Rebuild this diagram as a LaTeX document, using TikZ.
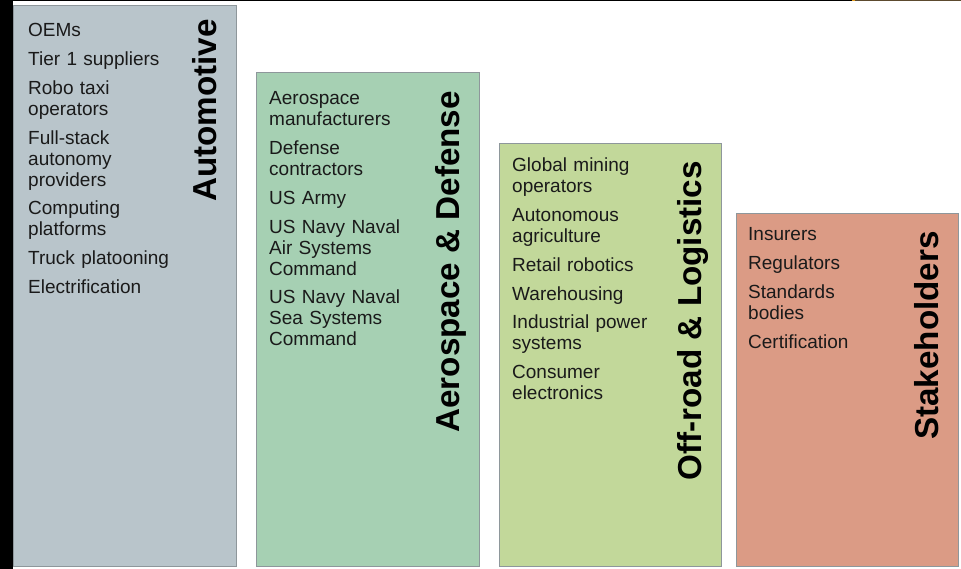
\documentclass[tikz,border=0pt]{standalone}
\usepackage{fontspec}
\setmainfont{Liberation Sans}
\definecolor{autofill}{HTML}{B9C5CB}
\definecolor{aerofill}{HTML}{A6D0B3}
\definecolor{offfill}{HTML}{C2D89A}
\definecolor{stakefill}{HTML}{DB9B85}
\definecolor{boxline}{HTML}{8E979B}
\definecolor{itemtext}{HTML}{1A1A1A}
\definecolor{topbrown}{HTML}{5C4A2E}
\definecolor{toporange}{HTML}{E8A020}
\tikzset{
  colbox/.style={draw=boxline, line width=0.9pt},
  itemlist/.style={anchor=base west, inner sep=0pt, text width=200pt, align=left,
    font=\fontsize{19}{21}\selectfont, text=itemtext},
  coltitle/.style={anchor=base east, rotate=90, inner sep=0pt,
    font=\fontsize{33.2}{36}\selectfont\bfseries, text=black}
}
\begin{document}
\begin{tikzpicture}[x=1pt,y=-1pt]
\useasboundingbox (0,0) rectangle (961,569);
% frame remnants
\fill[black] (0,0) rectangle (12.5,569);
\fill[black] (0,0) rectangle (852,1.5);
\fill[toporange] (852,0) rectangle (855,1.5);
\fill[topbrown] (855,0) rectangle (961,1.2);

% boxes
\filldraw[colbox, fill=autofill] (13,5) rectangle (236,566);
\filldraw[colbox, fill=aerofill] (256,72) rectangle (479,566);
\filldraw[colbox, fill=offfill] (499,143) rectangle (721,566);
\filldraw[colbox, fill=stakefill] (736,213) rectangle (958,566);

% titles
\node[coltitle] (tauto) at (216,19) {Automotive};
\node[coltitle] (taero) at (459,91) {Aerospace \& Defense};
\node[coltitle] (toff) at (701,161) {Off-road \& Logistics};
\node[coltitle] (tstake) at (938,231) {Stakeholders};

% item lists
\node[itemlist] (lauto) at (28,37) {OEMs\\[7.7pt]
Tier 1 suppliers\\[7.7pt]
Robo taxi\\ operators\\[7.7pt]
Full-stack\\ autonomy\\ providers\\[7.7pt]
Computing\\ platforms\\[7.7pt]
Truck platooning\\[7.7pt]
Electrification};

\node[itemlist] (laero) at (269,105) {Aerospace\\ manufacturers\\[7.7pt]
Defense\\ contractors\\[7.7pt]
US Army\\[7.7pt]
US Navy Naval\\ Air Systems\\ Command\\[7.7pt]
US Navy Naval\\ Sea Systems\\ Command};

\node[itemlist] (loff) at (512,172) {Global mining\\ operators\\[7.7pt]
Autonomous\\ agriculture\\[7.7pt]
Retail robotics\\[7.7pt]
Warehousing\\[7.7pt]
Industrial power\\ systems\\[7.7pt]
Consumer\\ electronics};

\node[itemlist] (lstake) at (748,241) {Insurers\\[7.7pt]
Regulators\\[7.7pt]
Standards\\ bodies\\[7.7pt]
Certification};
\end{tikzpicture}
\end{document}
